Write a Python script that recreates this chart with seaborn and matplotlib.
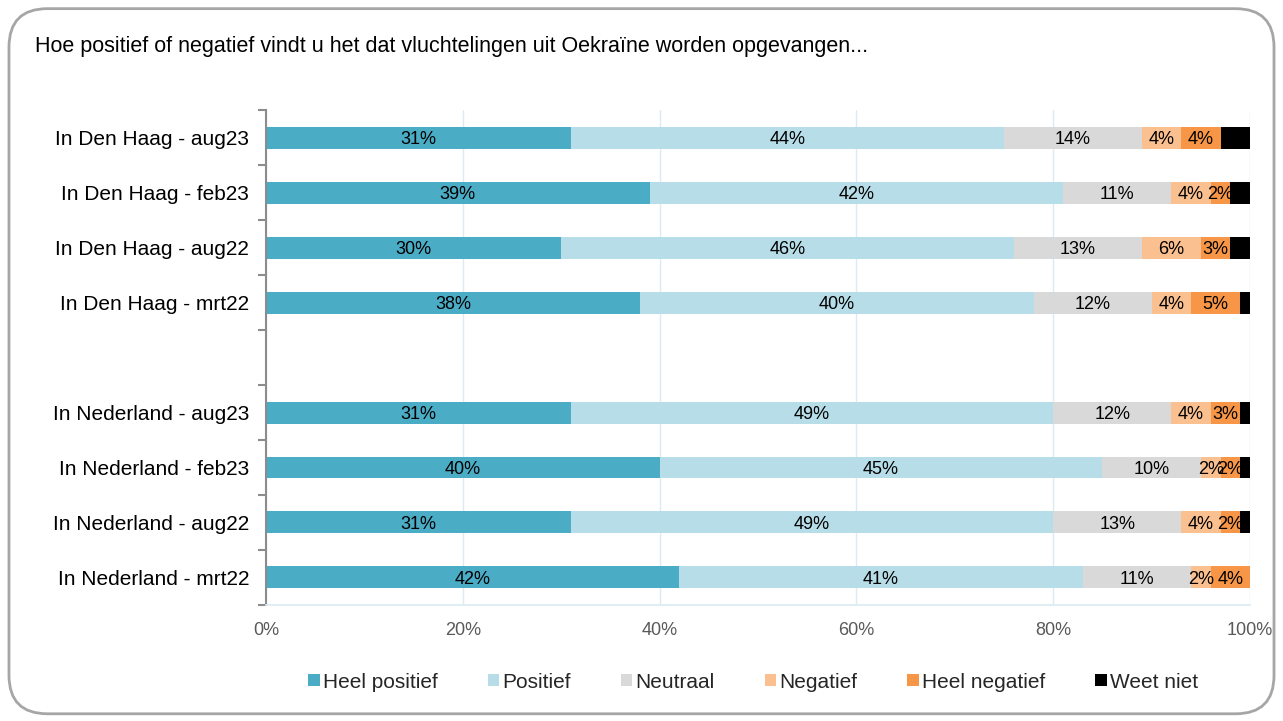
import pandas as pd
import matplotlib.pyplot as plt
import seaborn as sns
from matplotlib.patches import FancyBboxPatch, Patch

labels = ["In Den Haag - aug23", "In Den Haag - feb23", "In Den Haag - aug22", "In Den Haag - mrt22",
          "In Nederland - aug23", "In Nederland - feb23", "In Nederland - aug22", "In Nederland - mrt22"]
series = ["Heel positief", "Positief", "Neutraal", "Negatief", "Heel negatief", "Weet niet"]
heel_pos = [31, 39, 30, 38, 31, 40, 31, 42]
pos = [44, 42, 46, 40, 49, 45, 49, 41]
neutraal = [14, 11, 13, 12, 12, 10, 13, 11]
negatief = [4, 4, 6, 4, 4, 2, 4, 2]
heel_neg = [4, 2, 3, 5, 3, 2, 2, 4]
weet_niet = [3, 2, 2, 1, 1, 1, 1, 0]
colors = ["#4BACC6", "#B7DEE8", "#D9D9D9", "#FAC090", "#F79646", "#000000"]

df = pd.DataFrame({"label": labels, "Heel positief": heel_pos, "Positief": pos, "Neutraal": neutraal,
                   "Negatief": negatief, "Heel negatief": heel_neg, "Weet niet": weet_niet})
cum = df[series].cumsum(axis=1)
order = labels[:4] + [" "] + labels[4:]

sns.set_theme(style="white")
plt.rcParams['font.family'] = ['Liberation Sans', 'DejaVu Sans']

fig = plt.figure(figsize=(12.83, 7.21), dpi=100)
ax = fig.add_axes([0.2073, 0.1609, 0.7670, 0.6865])

# stacked bars: draw cumulative totals from the longest down
for s, c in reversed(list(zip(series, colors))):
    sns.barplot(x=cum[s], y=df["label"], order=order, color=c, saturation=1,
                width=0.4, orient="h", linewidth=0, ax=ax)

# percentage labels in the middle of each segment
for i, lab in enumerate(labels):
    ypos = order.index(lab)
    left = 0
    for s in series:
        v = df.loc[i, s]
        if s != "Weet niet" and v > 0:
            ax.text(left + v / 2, ypos, f"{v}%", ha="center", va="center_baseline", fontsize=13, color="black")
        left += v

ax.set_xlim(0, 100)
ax.set_ylim(len(order) - 0.5, -0.5)
ax.set_xticks([0, 20, 40, 60, 80, 100])
ax.set_xticklabels(["0%", "20%", "40%", "60%", "80%", "100%"])
ax.set_xlabel("")
ax.set_ylabel("")
ax.set_axisbelow(True)
ax.grid(axis="x", color="#DCEBF3", linewidth=1)
ax.grid(axis="y", visible=False)
ax.tick_params(axis="x", length=0, pad=12, labelsize=13, labelcolor="#595959")
ax.tick_params(axis="y", which="major", left=True, length=0, pad=12, labelsize=15, labelcolor="black")
ax.set_yticks([i - 0.5 for i in range(len(order) + 1)], minor=True)
ax.tick_params(axis="y", which="minor", left=True, length=6, width=1.5, color="#8C8C8C", direction="out")
for sp in ["top", "right"]:
    ax.spines[sp].set_visible(False)
ax.spines["left"].set_color("#8C8C8C")
ax.spines["left"].set_linewidth(1.5)
ax.spines["bottom"].set_color("#DCEBF3")

fig.text(0.0273, 0.935, "Hoe positief of negatief vindt u het dat vluchtelingen uit Oekraïne worden opgevangen...",
         fontsize=15.5, color="black", va="center", ha="left")

handles = [Patch(facecolor=c, edgecolor="none") for c in colors]
fig.legend(handles, series, loc="center", bbox_to_anchor=(0.587, 0.054), ncol=6, frameon=False,
           fontsize=15, handlelength=0.55, handleheight=0.55, handletextpad=0.15, columnspacing=2.4)

border = FancyBboxPatch((0.007, 0.01), 0.986, 0.978, boxstyle="round,pad=0,rounding_size=0.03",
                        transform=fig.transFigure, facecolor="none", edgecolor="#A6A6A6", linewidth=2,
                        mutation_aspect=1283 / 721)
fig.patches.append(border)

fig.savefig("out.png", dpi=100)
